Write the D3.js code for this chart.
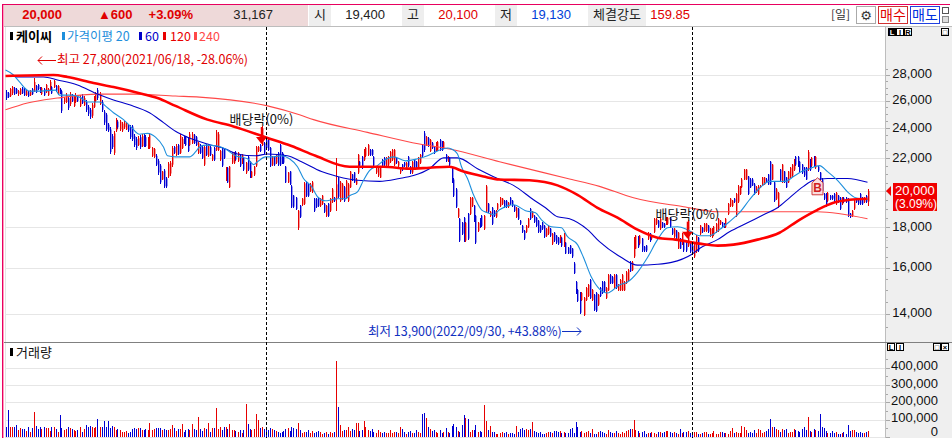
<!DOCTYPE html>
<html>
<head>
<meta charset="utf-8">
<script src="https://d3js.org/d3.v7.min.js"></script>
<style>
  html, body { margin: 0; padding: 0; background: #fff; overflow: hidden; }
  svg { display: block; }
  text { font-family: "Liberation Sans", "Noto Sans CJK KR", sans-serif; font-size: 12.5px; }
  .kr { font-family: "Noto Sans CJK KR", sans-serif; }
</style>
</head>
<body>
<svg id="chart" width="952" height="438"></svg>
<script>
// daily bars
var barHigh = [
  26800,26640,26960,27120,27040,26960,26800,26960,27040,26960,
  26800,26720,26800,26960,27760,27200,27280,27040,27040,26960,
  27280,26960,27600,27120,27600,27200,27200,26960,26800,26260,
  26560,26340,26640,26490,26340,26560,26340,26410,26490,26340,
  26040,25680,25460,25820,26340,26640,26960,26640,26040,25310,
  25100,24390,24050,23580,23780,24740,24600,24600,24460,24530,
  24460,24320,24190,24250,23580,23380,23450,23510,23580,23580,
  23510,23380,23640,22720,22660,22270,21960,21650,21220,21340,
  20860,21770,21830,22790,22790,22920,22920,23580,23380,23450,
  23450,23380,23710,23710,23580,23450,23050,22920,22790,22790,
  22920,22920,22790,22270,22720,23840,23710,22530,22720,22590,
  21460,21460,21530,22400,22400,22460,22400,22270,22270,22080,
  21770,22150,21830,21220,21530,22790,22790,22920,24120,23050,
  23250,23380,22720,22150,22150,22270,22400,22920,22400,22270,
  21530,21160,21220,20330,19780,19670,18940,19220,19610,20510,
  20570,20450,20450,20570,19610,19610,19670,19610,19780,19330,
  19220,19330,19610,20160,19670,22020,20860,20570,20450,20270,
  20630,20450,21220,21040,21160,20740,22270,21830,22150,22590,
  22720,22920,22590,22590,22150,21530,21530,21460,21960,22080,
  22080,22150,22460,22590,22590,22080,21830,21460,21650,21770,
  21770,22150,21530,21830,21960,21830,22080,22270,22920,23780,
  23450,23380,23250,23050,22790,23050,23110,23250,23110,23110,
  22270,22150,22080,21460,20740,20160,19050,18510,18300,18560,
  18300,18780,19670,19670,19220,18670,18300,18510,18670,18670,
  20330,19330,18880,19110,18940,18940,19330,19670,19610,19500,
  19500,19390,19670,19500,19220,19110,19050,18400,18140,17880,
  18140,18510,19050,18880,18670,18560,18400,18140,18300,18140,
  17980,18140,17980,17720,17770,17620,17520,17620,17520,17720,
  17270,17020,17120,16970,16260,15400,15050,14920,14920,14710,
  15140,15270,15490,15050,14840,14920,14840,15140,15400,15400,
  15140,15710,15710,15620,15710,15710,15270,15490,15710,15400,
  15850,15940,16310,16310,17520,17620,17570,17620,17470,17070,
  17120,17770,17720,17620,18510,18510,18400,18510,18300,18240,
  18560,18560,18560,17980,17980,17880,17770,17470,17720,17370,
  17370,18400,17220,17120,17220,17620,17520,18140,18030,18240,
  18240,18140,17980,17980,18090,18240,18510,18400,18300,18240,
  18510,19330,19610,19500,19610,19890,20330,20270,20740,21340,
  21340,20920,20740,20740,20450,20270,20330,20330,20860,20860,
  20740,21040,21830,21650,20570,20160,19950,21340,21650,21220,
  20860,21220,21460,21650,21960,22150,22150,21830,21650,21460,
  21460,22530,21960,22080,22150,22150,21530,21160,20740,19890,
  19890,19950,19780,19780,19890,19950,19780,19670,19670,19670,
  19670,19610,18780,18940,19500,19610,19610,19890,19670,19670,
  19780,20100
];
var barLow = [
  26040,26190,26260,26410,26410,26490,26340,26410,26490,26340,
  26340,26260,26340,26410,26640,26560,26800,26560,26410,26340,
  26560,26340,26800,26490,26960,26640,26410,26490,25100,25750,
  25820,25310,25600,25890,25530,25820,25890,25530,25750,25600,
  25170,24880,24670,24740,25460,25890,26040,25680,25170,24250,
  23780,23710,22270,22590,22210,23710,23910,23780,23710,23910,
  23840,23710,23250,23110,22720,22530,22790,22590,22720,22720,
  22720,22590,22590,22080,22020,21530,20980,20390,20630,20160,
  20160,20740,20920,21460,22270,22150,22210,22270,22590,22920,
  22790,22400,22790,22920,22920,22790,22270,22270,21960,21530,
  22150,22080,22150,21830,21830,22460,22460,21830,21460,21960,
  20570,20450,20160,21650,21650,21830,21770,21460,21650,21220,
  21040,21220,20740,20740,20920,21460,22400,22400,22790,22270,
  22590,22460,21460,21530,21530,21650,21530,21530,21650,21650,
  20450,20450,20330,19050,19050,18940,17880,18510,19160,19220,
  19670,19670,19950,19890,18830,19050,19110,19110,19220,18780,
  18560,18560,18830,19330,19390,18890,19610,19390,19500,19390,
  19610,19390,20160,20570,20450,20330,21040,21460,21340,21830,
  22080,22150,22150,22150,21460,21040,20860,20740,21460,21530,
  21460,21530,21710,21830,21530,21650,21460,21040,21220,21460,
  21340,21460,21040,21040,21340,21340,21340,21650,22080,22400,
  22790,22720,22400,22590,22270,22460,22460,22460,22460,22590,
  21770,21770,21530,20450,19670,19050,18510,17270,17620,17270,
  17270,17370,18670,19110,18300,17170,17770,17980,18030,17880,
  18780,18780,18560,18140,18560,18510,18940,19110,19220,19050,
  19050,19050,19220,19110,18830,18510,18400,18140,17720,17370,
  17720,17980,18400,18510,18240,18030,17720,17720,17880,17470,
  17520,17620,17520,17120,17270,17170,17120,17220,17020,17020,
  16640,16640,16640,16490,15710,14840,14500,14010,14540,13900,
  14540,14710,14630,14540,14130,14090,14340,14710,14840,14920,
  14630,14960,15270,15270,15050,15050,14960,14960,14960,14960,
  15270,15400,15800,15850,16490,16880,16970,17120,16780,16780,
  16780,17370,17270,17370,17720,18140,17980,17880,17980,17980,
  18140,18140,17980,17620,17470,17370,16880,16880,17120,16780,
  16780,17020,16730,16730,16490,16730,16780,17620,17720,17770,
  17770,17720,17520,17470,17570,17720,17770,18140,17980,17980,
  17980,18670,19110,19110,19330,18560,19330,19780,20160,20630,
  20630,19780,20160,20270,19780,19890,19780,20160,20270,20330,
  20450,20330,20330,20630,19390,19500,19050,20570,20450,20450,
  20160,20450,20740,20860,21220,21530,21460,21160,21040,20860,
  20630,21220,21220,21460,21460,21340,21160,20630,19950,19500,
  19110,19390,19500,19500,19390,19220,19330,18940,19220,19330,
  19330,18560,18510,18560,18940,19330,19220,19220,19220,19330,
  19330,19130
];
var barOpen = [
  26650,26560,26340,26560,26960,26880,26490,26490,26960,26880,
  26410,26640,26410,26880,26720,27120,27200,26960,26490,26880,
  26640,26410,26880,27040,27040,27120,26490,26880,26720,25890,
  25890,26190,25750,26340,25600,25890,26260,25600,26340,25680,
  25890,25530,25310,24880,25530,25960,26800,25750,25890,25170,
  24960,24250,23910,23450,22340,23840,24460,23910,23840,24050,
  23910,24190,24050,24120,23450,23250,22850,23380,22790,23450,
  23380,22660,22660,22150,22080,22150,21830,21530,20680,21220,
  20740,20860,21040,21590,22720,22210,22850,22340,22660,23380,
  23380,23250,22850,22980,23510,23380,22340,22850,22720,21590,
  22850,22150,22720,21900,22660,22530,22530,21900,22660,22530,
  20630,21400,20220,21710,21710,22400,21830,22210,21710,22020,
  21100,22080,21770,20800,20980,21530,22460,22850,22850,22980,
  23180,23310,22660,21590,22080,21710,22340,22850,22340,22210,
  21460,20510,21160,20270,19730,19610,17980,19160,19220,19270,
  20510,20390,20000,19950,19560,19560,19610,19160,19270,19270,
  18610,19270,18890,19390,19610,19560,20800,19440,19560,20220,
  19670,19440,20220,20980,21100,20390,21100,21770,22080,21900,
  22150,22210,22530,22530,22080,21100,20920,20800,21900,22020,
  21530,21590,21770,21900,21590,22020,21530,21100,21590,21710,
  21400,22080,21460,21100,21900,21770,21400,21710,22850,23640,
  22850,23310,22460,22980,22720,22530,22530,23180,23050,22660,
  22210,21830,22020,21400,20680,20100,18560,18450,18240,18500,
  17320,18720,18720,19160,19160,18610,17820,18450,18610,17930,
  18830,19270,18610,19050,18880,18560,18990,19160,19270,19440,
  19440,19110,19610,19440,19160,18560,19000,18350,18080,17820,
  17770,18030,18990,18560,18610,18500,18350,18080,18240,18080,
  17570,17670,17930,17170,17720,17570,17470,17270,17470,17070,
  17220,16970,17070,16920,16210,15360,15010,14880,14580,13960,
  14580,14750,15450,14580,14800,14880,14380,15100,15360,15360,
  14670,15000,15670,15580,15100,15670,15000,15000,15000,15000,
  15310,15440,16260,15900,16540,16920,17520,17170,17420,17020,
  17070,17420,17670,17420,17770,18190,18350,17930,18250,18190,
  18190,18190,18500,17930,17520,17830,16930,17420,17170,17320,
  17320,17070,17170,17070,16540,16780,17470,17670,17980,17820,
  17820,18090,17570,17520,17620,17770,17820,18190,18250,18190,
  18030,18720,19160,19160,19560,18610,19390,19830,20220,20680,
  20680,20860,20680,20680,20390,19950,19830,20220,20330,20390,
  20680,20980,21770,20680,20510,19560,19110,21280,20510,21160,
  20800,20510,20800,20920,21280,22080,22080,21770,21590,21400,
  21400,21280,21900,21520,22080,21400,21470,21100,20680,19830,
  19830,19440,19730,19730,19830,19280,19730,19610,19270,19610,
  19610,19550,18730,18610,19000,19550,19550,19830,19610,19380,
  19720,19400
];
var barClose = [
  26190,26270,26880,27040,26490,26560,26720,26880,26560,26410,
  26720,26340,26720,26490,27440,26640,26880,26640,26960,26410,
  27200,26880,27440,26560,27520,26720,27120,26560,25240,26190,
  26410,25460,26490,25960,26190,26410,25960,26260,25820,26190,
  25310,25030,24810,25680,26190,26490,26190,26490,25310,24390,
  23910,23840,22400,22720,23640,24600,24050,24460,24320,24390,
  24320,23840,23380,23250,22850,22660,23310,22720,23450,22850,
  22790,23250,23510,22660,22590,21590,21100,20510,21160,20270,
  20270,21650,21710,22660,22340,22790,22270,23450,23250,22980,
  22850,22460,23580,23580,22980,22850,22980,22340,22020,22720,
  22210,22850,22210,22210,21900,23710,23580,22460,21530,22020,
  21400,20510,21460,22340,22340,21900,22340,21530,22210,21280,
  21710,21280,20800,21160,21460,22720,22720,22460,23980,22340,
  22660,22530,21530,22080,21590,22210,21590,21590,21710,21710,
  20510,21100,20390,19110,19110,18990,18890,18560,19560,20450,
  19730,19730,20390,20510,18890,19110,19160,19560,19730,18830,
  19160,18610,19560,20100,19440,20390,19670,20510,20390,19440,
  20570,20390,21160,20630,20510,20680,22210,21530,21400,22530,
  22660,22850,22210,22210,21530,21460,21460,21400,21530,21590,
  22020,22080,22400,22530,22530,21710,21770,21400,21280,21530,
  21710,21530,21100,21770,21400,21400,22020,22210,22150,22530,
  23380,22790,23180,22660,22340,22980,23050,22530,22530,23050,
  21830,22080,21590,20510,19730,19110,19000,17320,17670,17320,
  18240,17420,19610,19610,18350,17220,18240,18030,18080,18610,
  20270,18830,18830,18190,18610,18880,19270,19610,19560,19110,
  19110,19330,19270,19160,18880,19050,18450,18190,17770,17420,
  18080,18450,18450,18830,18290,18080,17770,17770,17930,17520,
  17930,18080,17570,17670,17320,17220,17170,17570,17070,17670,
  16690,16690,16690,16540,15760,14880,14540,14050,14880,14670,
  15100,15230,14670,15010,14170,14130,14800,14750,14880,14960,
  15100,15670,15310,15310,15670,15100,15230,15450,15670,15360,
  15800,15900,15850,16260,17470,17570,17020,17570,16830,16830,
  16830,17720,17320,17570,18450,18450,18030,18450,18030,18030,
  18510,18510,18030,17670,17930,17420,17720,16930,17670,16830,
  16830,18350,16780,16780,17170,17570,16830,18090,17770,18190,
  18190,17770,17930,17930,18030,18190,18450,18350,18030,18030,
  18450,19270,19560,19450,19380,19830,20270,20220,20680,21280,
  21280,19830,20220,20330,19830,20220,20270,20300,20800,20800,
  20510,20390,20390,21590,19440,20100,19890,20630,21590,20510,
  20220,21160,21400,21590,21900,21590,21530,21220,21100,20920,
  20680,22400,21280,22020,21520,22080,21220,20680,20000,19560,
  19170,19890,19560,19560,19440,19890,19380,19000,19610,19380,
  19380,18610,18560,18880,19450,19380,19280,19280,19280,19610,
  19380,20000
];
var volumes = [
  58000,156000,60000,58000,55000,68000,40000,50000,48000,45000,
  35000,55000,30000,52000,145000,62000,48000,55000,45000,58000,
  50000,52000,35000,58000,55000,48000,30000,127000,50000,40000,
  48000,55000,52000,45000,40000,35000,38000,60000,30000,45000,
  68000,60000,62000,55000,50000,60000,102000,55000,58000,92000,
  55000,92000,50000,62000,58000,40000,45000,40000,30000,28000,
  35000,25000,30000,45000,50000,48000,50000,52000,40000,38000,
  48000,40000,79000,38000,48000,50000,52000,50000,42000,46000,
  42000,38000,48000,69000,50000,35000,45000,48000,75000,28000,
  42000,48000,42000,75000,45000,40000,114000,45000,35000,50000,
  48000,79000,30000,52000,50000,168000,48000,55000,42000,58000,
  58000,45000,75000,42000,42000,35000,30000,38000,25000,38000,
  190000,75000,45000,38000,48000,133000,98000,50000,55000,45000,
  42000,40000,52000,45000,38000,35000,30000,25000,28000,32000,
  45000,50000,35000,60000,52000,45000,79000,42000,25000,28000,
  30000,38000,25000,32000,22000,28000,35000,30000,20000,25000,
  30000,20000,30000,25000,28000,439000,173000,69000,35000,40000,
  40000,55000,35000,48000,42000,79000,79000,32000,40000,92000,
  55000,42000,35000,48000,30000,25000,40000,30000,25000,30000,
  25000,22000,38000,25000,30000,28000,22000,55000,45000,30000,
  20000,28000,32000,25000,22000,40000,30000,25000,133000,139000,
  110000,55000,45000,35000,42000,30000,25000,40000,25000,28000,
  50000,30000,25000,65000,72000,60000,35000,30000,68000,127000,
  110000,104000,30000,40000,38000,69000,30000,35000,30000,185000,
  92000,42000,63000,28000,30000,20000,18000,25000,30000,22000,
  28000,18000,22000,25000,20000,63000,30000,45000,50000,40000,
  48000,38000,45000,87000,35000,30000,25000,30000,20000,18000,
  25000,30000,28000,22000,35000,33000,28000,35000,25000,30000,
  25000,22000,45000,50000,25000,87000,55000,30000,35000,25000,
  28000,32000,22000,45000,18000,20000,28000,35000,28000,22000,
  18000,40000,28000,22000,22000,35000,25000,20000,30000,25000,
  35000,40000,48000,45000,98000,38000,35000,25000,30000,32000,
  20000,25000,22000,30000,22000,18000,28000,30000,25000,28000,
  32000,35000,30000,25000,28000,25000,20000,48000,25000,28000,
  28000,35000,22000,28000,30000,28000,20000,15000,22000,30000,
  28000,20000,18000,25000,35000,15000,18000,28000,28000,25000,
  25000,20000,35000,50000,22000,30000,25000,22000,63000,58000,
  40000,25000,28000,25000,38000,22000,48000,40000,25000,28000,
  35000,45000,104000,58000,58000,45000,40000,28000,45000,42000,
  45000,25000,30000,28000,45000,42000,35000,30000,48000,55000,
  40000,116000,35000,30000,48000,40000,35000,133000,58000,50000,
  35000,25000,25000,32000,25000,28000,20000,18000,25000,30000,
  18000,69000,35000,38000,42000,30000,22000,28000,25000,22000,
  28000,35000
];

// moving averages, sampled by eye along each line (bar number, price)
var ma20Bars = [0,4,7,12,16,25,27,33,37,41,47,51,54,59,63,67,71,75,79,81,85,92,95,97,100,106,110,115,121,124,126,130,133,138,142,146,149,153,156,160,163,166,170,172,176,179,182,186,189,194,200,206,211,215,221,223,226,228,231,234,238,241,244,247,254,260,265,268,273,278,281,286,289,293,297,301,307,311,316,321,326,331,336,341,347,352,357,362,367,372,377,382,390,394,398,402,407,411,416,421,425,431];
var ma20Values = [28410,28000,27440,26720,26720,26800,26410,26410,26260,25890,25890,25460,25100,24600,24050,23580,23640,23380,22720,22150,22080,22080,22400,22720,22850,22790,22590,22150,21960,21590,21770,22080,22080,22150,21960,21460,20740,20270,19670,19440,19500,19560,19560,19730,19950,20630,21220,21530,21830,22080,21830,21960,22150,22400,22660,22590,22270,21460,20740,19780,18940,18780,18670,18940,19220,18890,18780,18400,18030,17980,17520,17120,16490,15570,15050,14880,15230,15360,15800,16490,17370,17980,18030,17880,17570,17570,17880,18300,18780,19500,20160,20570,20570,20860,21160,21340,21530,21160,20630,19950,19610,19500];
var ma60Bars = [5,19,26,36,46,54,62,72,79,85,91,101,110,116,125,131,141,148,158,166,176,187,197,204,212,219,226,236,246,254,264,270,276,282,291,297,308,316,326,333,343,347,356,362,371,379,386,392,399,404,411,421,431];
var ma60Values = [27840,27840,27600,27200,26490,26040,25680,25100,24390,23780,23380,22920,22590,22270,22150,22270,22150,21770,21160,20860,20630,20570,20740,20920,21340,22020,22020,21340,20740,20330,19500,19050,18560,18450,17880,17270,16490,16130,16170,16260,16640,16930,17370,17770,18240,18670,19050,19610,20270,20630,20740,20740,20510];
var ma120Bars = [0,24,31,44,54,67,76,85,101,114,130,143,155,172,189,202,212,222,229,239,247,262,276,286,296,306,316,326,335,347,356,364,376,387,397,406,414,422,431];
var ma120Values = [27920,28000,27840,27360,27040,26560,26190,25600,24600,24120,23380,22790,22150,21460,21460,21340,21400,21460,21160,20860,20680,20630,20330,19780,19050,18510,17880,17470,17370,17170,17070,17120,17370,17720,18400,18940,19330,19500,19560];
var ma240Bars = [0,11,26,46,64,85,97,131,147,154,181,207,222,247,281,297,314,339,356,389,406,431];
var ma240Values = [25310,25820,26190,26490,26490,26340,26260,25600,24950,24600,23710,22920,22590,21770,20740,20270,19610,19110,18830,18830,18830,18450];

var priceTicks = [14000,16000,18000,20000,22000,24000,26000,28000];
// 20,000 sits behind the current price tag, so it gets no axis label of its own
var priceLabels = [14000,16000,18000,22000,24000,26000,28000];
var priceMinorTicks = [13500,14500,15000,15500,16500,17000,17500,18500,19000,19500,20500,21000,21500,22500,23000,23500,24500,25000,25500,26500,27000,27500,28500];
var volumeTicks = [0,100000,200000,300000,400000];
var volumeMinorTicks = [50000,150000,250000,350000,450000];
var dividendBars = [128,341];
var dividendPrices = [22920,17420];
var dividendLines = [130,343];
var buyBar = 406;
var buyPrice = 19840;

var nowPrice = '20,000';
var headerCells = [
  {x: 62,  anchor: 'end',    text: '20,000', color: '#e00000', bold: true},
  {x: 98,  anchor: 'start',  text: '▲600',   color: '#e00000', bold: true},
  {x: 193, anchor: 'end',    text: '+3.09%', color: '#e00000', bold: true},
  {x: 273, anchor: 'end',    text: '31,167', color: '#222'},
  {x: 385, anchor: 'end',    text: '19,400', color: '#222'},
  {x: 478, anchor: 'end',    text: '20,100', color: '#e00000'},
  {x: 571, anchor: 'end',    text: '19,130', color: '#0040d8'},
  {x: 690, anchor: 'end',    text: '159.85', color: '#e00000'}
];
var headerLabels = [
  {x: 309, w: 22, text: '시'},
  {x: 402, w: 22, text: '고'},
  {x: 495, w: 22, text: '저'},
  {x: 588, w: 58, text: '체결강도'}
];
var maLegend = [
  {x: 62,  text: '가격이평 20', color: '#1e8fdc', tx: 67},
  {x: 139, text: '60',  color: '#0000c8', tx: 145},
  {x: 163, text: '120', color: '#e80000', tx: 170},
  {x: 194, text: '240', color: '#ff4848', tx: 199}
];

var svg = d3.select('#chart');
var chartLeft = 5, chartRight = 885;

var x = d3.scaleLinear().domain([0, barHigh.length - 1]).range([5.5, 867.5]);
var y = d3.scaleLog().domain([14000, 28000]).range([314, 75]);
var yVol = d3.scaleLinear().domain([0, 400000]).range([437, 367.5]);

function px(v) { return Math.round(v) + 0.5; }

// frame and backgrounds
svg.append('rect').attr('x', chartRight).attr('y', 27).attr('width', 67).attr('height', 411).attr('fill', '#efefef');
svg.append('rect').attr('x', 3).attr('y', 5).attr('width', 305).attr('height', 21).attr('fill', '#eed9d9');
svg.append('line').attr('x1', 3).attr('x2', 952).attr('y1', 26.5).attr('y2', 26.5).attr('stroke', '#bdbdbd');
svg.append('line').attr('x1', chartRight + .5).attr('x2', chartRight + .5).attr('y1', 27).attr('y2', 438).attr('stroke', '#bdbdbd');
svg.append('line').attr('x1', chartLeft + .5).attr('x2', chartLeft + .5).attr('y1', 27).attr('y2', 438).attr('stroke', '#e4e4e4');
svg.append('line').attr('x1', 3).attr('x2', 952).attr('y1', 342.5).attr('y2', 342.5).attr('stroke', '#808080');

// gridlines
svg.append('g').selectAll('line').data(priceTicks).join('line')
    .attr('x1', chartLeft).attr('x2', chartRight)
    .attr('y1', function(d) { return px(y(d)); })
    .attr('y2', function(d) { return px(y(d)); })
    .attr('stroke', '#e6e6e6');
svg.append('g').selectAll('line').data(volumeTicks).join('line')
    .attr('x1', chartLeft).attr('x2', chartRight)
    .attr('y1', function(d) { return px(yVol(d)); })
    .attr('y2', function(d) { return px(yVol(d)); })
    .attr('stroke', '#e6e6e6');

// candles
var bars = d3.range(barHigh.length);
function barColor(i) { return barClose[i] >= barOpen[i] ? '#e60000' : '#0000d2'; }

var candles = svg.append('g');
candles.selectAll('line').data(bars).join('line')
    .attr('shape-rendering', 'crispEdges')
    .attr('x1', function(i) { return px(x(i)); })
    .attr('x2', function(i) { return px(x(i)); })
    .attr('y1', function(i) { return y(barHigh[i]); })
    .attr('y2', function(i) { return y(barLow[i]); })
    .attr('stroke', barColor);
candles.selectAll('rect').data(bars).join('rect')
    .attr('x', function(i) { return Math.round(x(i)); })
    .attr('width', 1.4)
    .attr('y', function(i) { return y(Math.max(barOpen[i], barClose[i])); })
    .attr('height', function(i) { return Math.abs(y(barOpen[i]) - y(barClose[i])); })
    .attr('fill', barColor);

// volume
svg.append('g').attr('shape-rendering', 'crispEdges')
  .selectAll('rect').data(bars).join('rect')
    .attr('x', function(i) { return Math.round(x(i)); })
    .attr('width', 1)
    .attr('y', function(i) { return yVol(volumes[i]); })
    .attr('height', function(i) { return yVol(0) - yVol(volumes[i]); })
    .attr('fill', barColor);

// moving averages
function drawMa(bs, values, color, width) {
  var line = d3.line()
      .x(function(d, i) { return x(bs[i]); })
      .y(function(d) { return y(d); })
      .curve(d3.curveMonotoneX);
  svg.append('path').attr('d', line(values))
      .attr('fill', 'none').attr('stroke', color).attr('stroke-width', width);
}
drawMa(ma240Bars, ma240Values, '#ff4848', 1.1);
drawMa(ma60Bars, ma60Values, '#0000c8', 1.1);
drawMa(ma20Bars, ma20Values, '#1e8fdc', 1.1);
drawMa(ma120Bars, ma120Values, '#ff0000', 2.6);

// ex-dividend dates
svg.append('g').selectAll('line').data(dividendLines).join('line')
    .attr('x1', function(d) { return px(x(d)); })
    .attr('x2', function(d) { return px(x(d)); })
    .attr('y1', 27).attr('y2', 438)
    .attr('stroke', '#000').attr('stroke-dasharray', '3,2');

var dividend = svg.append('g').selectAll('g').data(dividendBars).join('g')
    .attr('transform', function(d, i) {
      return 'translate(' + x(d) + ',' + y(dividendPrices[i]) + ')';
    });
dividend.append('line').attr('y1', -17).attr('y2', -5).attr('stroke', '#f00000').attr('stroke-width', 1.5);
dividend.append('path').attr('d', 'M-5.5,-7H5.5L0,0Z').attr('fill', '#f00000');
dividend.append('text').attr('class', 'kr').attr('text-anchor', 'middle').attr('y', -20)
    .attr('fill', '#111').style('font-size', '13px').text('배당락(0%)');

// buy marker
var buy = svg.append('g').attr('transform', 'translate(' + x(buyBar) + ',' + (y(buyPrice) - 8) + ')');
buy.append('path').attr('d', 'M0,-8L5.5,-3V9H-5.5V-3Z')
    .attr('fill', '#f8dede').attr('stroke', '#d23c3c');
buy.append('text').attr('text-anchor', 'middle').attr('y', 6).attr('fill', '#d02020')
    .style('font-weight', 'bold').style('font-size', '12px').text('B');

// high / low notes
svg.append('path').attr('d', 'M56,60.5H38M42,56.5L38,60.5L42,64.5').attr('fill', 'none').attr('stroke', '#e00000');
svg.append('text').attr('class', 'kr').attr('x', 57).attr('y', 64).attr('fill', '#e00000')
    .text('최고 27,800(2021/06/18, -28.06%)');
svg.append('path').attr('d', 'M562,331.5H581M577,327.5L581,331.5L577,335.5').attr('fill', 'none').attr('stroke', '#1030c0');
svg.append('text').attr('class', 'kr').attr('x', 368).attr('y', 336).attr('fill', '#1030c0')
    .text('최저 13,900(2022/09/30, +43.88%)');

// axes on the right
var priceAxis = d3.axisRight(y).tickValues(priceLabels).tickFormat(d3.format(',')).tickSize(0).tickPadding(0);
var gPrice = svg.append('g').attr('transform', 'translate(932,0)').call(priceAxis);
var volAxis = d3.axisRight(yVol).tickValues(volumeTicks).tickFormat(d3.format(',')).tickSize(0).tickPadding(0);
var gVol = svg.append('g').attr('transform', 'translate(938,0)').call(volAxis);
[gPrice, gVol].forEach(function(g) {
  g.select('.domain').remove();
  g.selectAll('text').attr('text-anchor', 'end').attr('fill', '#111')
      .style('font-size', '13px').style('font-family', '"Liberation Sans"');
});
gPrice.selectAll('text').attr('dy', '.22em');
// the 0 label is lifted so it stays inside the window
gVol.selectAll('text').attr('dy', function(d) { return d === 0 ? '-.14em' : '.17em'; });

function addTicks(scale, values, len) {
  svg.append('g').attr('shape-rendering', 'crispEdges').selectAll('line').data(values).join('line')
      .attr('x1', chartRight + 1).attr('x2', chartRight + 1 + len)
      .attr('y1', function(d) { return px(scale(d)); })
      .attr('y2', function(d) { return px(scale(d)); })
      .attr('stroke', '#a8a8a8');
}
addTicks(y, priceTicks, 4);
addTicks(y, priceMinorTicks, 2);
addTicks(yVol, volumeTicks, 4);
addTicks(yVol, volumeMinorTicks, 2);

// current price tag
svg.append('rect').attr('x', 893).attr('y', 183).attr('width', 44).attr('height', 28).attr('fill', '#f00000');
svg.append('path').attr('d', 'M886,191L891,186V196Z').attr('fill', '#f00000');
svg.append('text').attr('x', 895).attr('y', 195).attr('fill', '#fff').style('font-size', '13px').text(nowPrice);
svg.append('text').attr('x', 895).attr('y', 208).attr('fill', '#fff').style('font-size', '12px').text('(3.09%)');

// header
var head = svg.append('g');
head.selectAll('rect').data(headerLabels).join('rect')
    .attr('x', function(d) { return d.x; }).attr('y', 5)
    .attr('width', function(d) { return d.w; }).attr('height', 21)
    .attr('fill', '#eeeeee');
head.selectAll('text.label').data(headerLabels).join('text')
    .attr('class', 'label kr')
    .attr('x', function(d) { return d.x + d.w / 2; }).attr('y', 19)
    .attr('text-anchor', 'middle').attr('fill', '#222')
    .style('font-size', '13px')
    .text(function(d) { return d.text; });
head.selectAll('text.value').data(headerCells).join('text')
    .attr('class', 'value')
    .attr('x', function(d) { return d.x; }).attr('y', 19)
    .attr('text-anchor', function(d) { return d.anchor; })
    .attr('fill', function(d) { return d.color; })
    .style('font-weight', function(d) { return d.bold ? 'bold' : 'normal'; })
    .style('font-size', '13px')
    .text(function(d) { return d.text; });

head.append('text').attr('class', 'kr').attr('x', 831).attr('y', 19).attr('fill', '#333').style('font-size', '12px').text('[일]');
head.append('rect').attr('x', 856.5).attr('y', 6.5).attr('width', 19).attr('height', 17).attr('fill', '#fff').attr('stroke', '#aaa');
head.append('text').attr('x', 866).attr('y', 20).attr('text-anchor', 'middle').attr('fill', '#333').style('font-size', '13px').style('font-family', '"DejaVu Sans"').text('⚙');
head.append('rect').attr('x', 878.5).attr('y', 6.5).attr('width', 29).attr('height', 17).attr('fill', '#fff').attr('stroke', '#d03030');
head.append('text').attr('class', 'kr').attr('x', 893).attr('y', 20).attr('text-anchor', 'middle').attr('fill', '#e00000').style('font-size', '14px').text('매수');
head.append('rect').attr('x', 910.5).attr('y', 6.5).attr('width', 29).attr('height', 17).attr('fill', '#fff').attr('stroke', '#2040e0');
head.append('text').attr('class', 'kr').attr('x', 925).attr('y', 20).attr('text-anchor', 'middle').attr('fill', '#0030e0').style('font-size', '14px').text('매도');
head.append('rect').attr('x', 942.5).attr('y', 7.5).attr('width', 6).attr('height', 6).attr('fill', '#fff').attr('stroke', '#555');
head.append('rect').attr('x', 942.5).attr('y', 16.5).attr('width', 6).attr('height', 6).attr('fill', '#ddd').attr('stroke', '#888');

// chart titles
svg.append('rect').attr('x', 10).attr('y', 32).attr('width', 3).attr('height', 8).attr('fill', '#000');
svg.append('text').attr('class', 'kr').attr('x', 16).attr('y', 41).attr('fill', '#000')
    .style('font-weight', 'bold').style('font-size', '13px').text('케이씨');
svg.append('g').selectAll('rect').data(maLegend).join('rect')
    .attr('x', function(d) { return d.x; }).attr('y', 32).attr('width', 3).attr('height', 8)
    .attr('fill', function(d) { return d.color; });
svg.append('g').selectAll('text').data(maLegend).join('text')
    .attr('class', 'kr')
    .attr('x', function(d) { return d.tx; }).attr('y', 41)
    .attr('fill', function(d) { return d.color; })
    .text(function(d) { return d.text; });
svg.append('rect').attr('x', 10).attr('y', 348).attr('width', 3).attr('height', 8).attr('fill', '#000');
svg.append('text').attr('class', 'kr').attr('x', 16).attr('y', 357).attr('fill', '#111').style('font-size', '13px').text('거래량');

// small panel buttons
function panelButton(bx, by, w, label, dark) {
  svg.append('rect').attr('x', bx + .5).attr('y', by + .5).attr('width', w).attr('height', 7)
      .attr('fill', dark ? '#000' : '#fff').attr('stroke', '#000');
  svg.append('text').attr('x', bx + w / 2 + .5).attr('y', by + 7).attr('text-anchor', 'middle')
      .attr('fill', dark ? '#fff' : '#000').style('font-size', '7.5px').style('font-weight', 'bold').text(label);
}
panelButton(888, 28, 7, 'L', true);
panelButton(896, 28, 7, 'I', false);
panelButton(904, 28, 7, 'R', false);
panelButton(941, 28, 7, '□', false);
panelButton(887, 343, 7, 'L', false);
panelButton(896, 343, 7, 'I', false);
panelButton(933, 343, 7, '□', false);
panelButton(941, 343, 7, '×', false);

// pink window edge, on top
svg.append('rect').attr('x', 2).attr('y', 4).attr('width', 948).attr('height', 1).attr('fill', '#e8005f');
svg.append('rect').attr('x', 2).attr('y', 4).attr('width', 1).attr('height', 434).attr('fill', '#e8005f');
svg.append('rect').attr('x', 3).attr('y', 5).attr('width', 1).attr('height', 433).attr('fill', '#ff9dc0');
</script>
</body>
</html>
